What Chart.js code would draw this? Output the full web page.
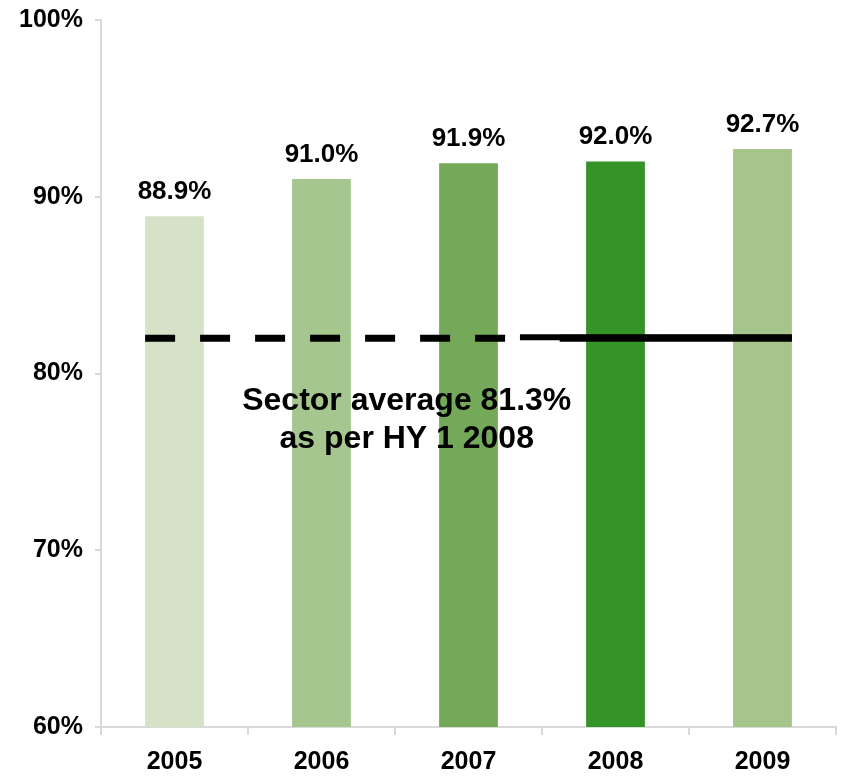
<!DOCTYPE html>
<html>
<head>
<meta charset="utf-8">
<script src="https://cdn.jsdelivr.net/npm/chart.js@4"></script>
<style>
  html, body { margin: 0; padding: 0; background: #ffffff; }
  #wrap { width: 842px; height: 777px; position: relative; }
</style>
</head>
<body>
<div id="wrap"><canvas id="c"></canvas></div>
<script>
const years = ['2005', '2006', '2007', '2008', '2009'];
const ratios = [88.9, 91.0, 91.9, 92.0, 92.7];
const barColors = ['#d5e2c8', '#a5c68f', '#75a95a', '#359427', '#a5c58d'];
const yTicks = [60, 70, 80, 90, 100];
const sectorLineValue = [82.0];
const sectorText = ['Sector average 81.3%', 'as per HY 1 2008'];

const FONT = '"Liberation Sans", Arial, sans-serif';

const overlay = {
  id: 'overlay',
  afterDatasetsDraw(chart) {
    const ctx = chart.ctx;
    const x = chart.scales.x, y = chart.scales.y;
    const meta = chart.getDatasetMeta(0);
    const cat = (x.getPixelForValue(1) - x.getPixelForValue(0));
    // data labels
    ctx.save();
    ctx.fillStyle = '#000';
    ctx.font = 'bold 26px ' + FONT;
    ctx.textAlign = 'center';
    ctx.textBaseline = 'alphabetic';
    meta.data.forEach((bar, i) => {
      ctx.fillText(ratios[i].toFixed(1) + '%', bar.x, bar.y - 17);
    });
    // sector average line
    const ly = y.getPixelForValue(sectorLineValue[0]);
    const b0 = meta.data[0], b4 = meta.data[meta.data.length - 1];
    const xStart = b0.x - b0.width / 2;
    const xEnd = b4.x + b4.width / 2;
    const dashEnd = x.getPixelForValue(2) + 0.30 * cat;
    const solidStart = x.getPixelForValue(2) + 0.35 * cat;
    ctx.strokeStyle = '#000';
    ctx.lineWidth = 7;
    ctx.lineCap = 'butt';
    ctx.setLineDash([30, 25]);
    ctx.beginPath();
    ctx.moveTo(xStart, ly);
    ctx.lineTo(dashEnd, ly);
    ctx.stroke();
    ctx.setLineDash([]);
    ctx.lineWidth = 6;
    ctx.beginPath();
    ctx.moveTo(solidStart, ly - 1);
    ctx.lineTo(xEnd, ly - 1);
    ctx.stroke();
    ctx.lineWidth = 7;
    ctx.beginPath();
    ctx.moveTo(x.getPixelForValue(2) + 0.62 * cat, ly);
    ctx.lineTo(xEnd, ly);
    ctx.stroke();
    // annotation text
    const tx = x.getPixelForValue(1) + 0.58 * cat;
    ctx.font = 'bold 32px ' + FONT;
    ctx.textAlign = 'center';
    ctx.fillText(sectorText[0], tx, ly + 72);
    ctx.fillText(sectorText[1], tx, ly + 110);
    ctx.restore();
  }
};

new Chart(document.getElementById('c'), {
  type: 'bar',
  data: {
    labels: years,
    datasets: [{
      data: ratios,
      backgroundColor: barColors,
      borderWidth: 0,
      barPercentage: 0.4,
      categoryPercentage: 1.0
    }]
  },
  options: {
    responsive: true,
    maintainAspectRatio: false,
    animation: false,
    layout: { padding: { top: 20, right: 6, left: 0, bottom: 0 } },
    plugins: { legend: { display: false }, tooltip: { enabled: false } },
    scales: {
      x: {
        grid: { display: true, drawOnChartArea: false, drawTicks: true, tickLength: 8, color: '#d9d9d9', lineWidth: 2, offset: true },
        border: { display: true, color: '#d9d9d9', width: 2 },
        ticks: { color: '#000', font: { family: FONT, size: 25, weight: 'bold' }, padding: 12, maxRotation: 0 },
        afterFit(s) { s.height = 50; s.paddingLeft = 0; s.paddingRight = 0; }
      },
      y: {
        min: yTicks[0],
        max: yTicks[yTicks.length - 1],
        afterBuildTicks(s) { s.ticks = yTicks.map(v => ({ value: v })); },
        grid: { display: true, drawOnChartArea: false, drawTicks: true, tickLength: 6, color: '#d9d9d9', lineWidth: 2 },
        border: { display: true, color: '#d9d9d9', width: 2 },
        ticks: { color: '#000', font: { family: FONT, size: 25, weight: 'bold' }, padding: 12, callback: v => v + '%' },
        afterFit(s) { s.width = 101; s.paddingTop = 0; s.paddingBottom = 0; }
      }
    }
  },
  plugins: [overlay]
});
</script>
</body>
</html>
